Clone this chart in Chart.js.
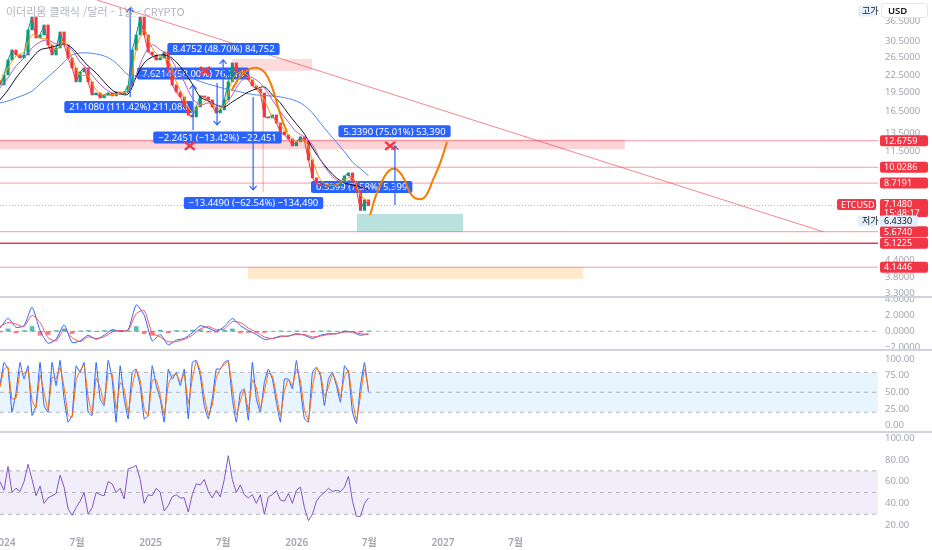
<!DOCTYPE html>
<html lang="ko">
<head>
<meta charset="utf-8">
<title>ETCUSD</title>
<script src="https://cdn.jsdelivr.net/npm/chart.js@4.4.1/dist/chart.umd.min.js"></script>
<style>
  html, body { margin: 0; padding: 0; background: #fff; }
  body { width: 932px; height: 550px; position: relative; overflow: hidden; }
  .pane { position: absolute; left: 0; width: 932px; }
  .sep { position: absolute; left: 0; width: 932px; height: 2px; background: #d1d4dc; }
  #title { position: absolute; left: 6px; top: 3px; font: 11px "Noto Sans CJK KR", "Noto Sans", sans-serif; color: #b2b5be; pointer-events: none; }
</style>
</head>
<body>
<div class="pane" style="top:0;height:297px"><canvas id="mainChart"></canvas></div>
<div class="pane" style="top:297px;height:53px"><canvas id="macdChart"></canvas></div>
<div class="pane" style="top:351px;height:81px"><canvas id="stochChart"></canvas></div>
<div class="pane" style="top:433px;height:117px"><canvas id="rsiChart"></canvas></div>
<div class="sep" style="top:296px"></div>
<div class="sep" style="top:349px"></div>
<div class="sep" style="top:431px"></div>
<div id="title">이더리움 클래식 /달러 - 1날 - CRYPTO</div>
<script>
// x = days since 2024-01-01
const GRID_START = -10;
const GRID_STEP = 10;
const MA_STEP = 20;

const closes = [20.75, 22.67, 25.87, 28.26, 27.04, 26.33, 27.04, 33.72, 37.82, 31.42,
  32.26, 35.24, 29.54, 27.04, 28.76, 33.13, 29.54, 26.33, 24.11, 21.31,
  23.28, 24.11, 21.31, 18.99, 19.33, 18.50, 18.99, 19.33, 18.83, 19.50,
  19.16, 19.50, 20.57, 28.26, 32.26, 37.82, 32.26, 27.77, 27.04, 25.87,
  26.33, 27.77, 23.69, 20.75, 19.50, 18.66, 17.09, 15.92, 15.64, 17.09,
  18.83, 18.66, 18.18, 17.09, 16.20, 16.64, 18.18, 21.31, 25.19, 23.07,
  23.69, 22.67, 21.69, 20.57, 20.03, 19.33, 15.64, 15.51, 15.92, 14.83,
  13.71, 13.35, 12.88, 12.11, 12.55, 13.11, 12.66, 10.70, 9.13, 8.66,
  8.51, 8.58, 8.43, 8.66, 8.51, 8.73, 9.29, 9.54, 8.81, 8.14,
  6.85, 7.52, 7.148];
const firstOpen = 21.6;

const maFast = [21.31, 24.11, 26.80, 27.77, 32.26, 31.42, 30.87, 28.26, 30.33, 26.33,
  22.67, 22.47, 19.85, 18.99, 18.99, 19.33, 19.85, 28.26, 33.72, 28.76,
  26.56, 25.87, 21.31, 18.50, 16.35, 17.39, 18.18, 16.94, 17.24, 21.69,
  23.28, 22.47, 20.57, 18.18, 15.64, 14.57, 13.35, 12.55, 12.77, 10.70,
  8.97, 8.58, 8.58, 8.97, 9.13, 7.86, 7.39];
const maMid = [20.21, 22.07, 24.54, 26.33, 28.76, 30.33, 30.87, 29.80, 29.80, 28.26,
  25.42, 23.69, 21.69, 20.21, 19.33, 19.16, 19.50, 22.67, 27.04, 29.54,
  28.26, 27.04, 24.11, 21.31, 18.50, 17.39, 17.70, 17.39, 17.24, 18.99,
  21.31, 22.27, 21.69, 20.21, 18.18, 16.35, 14.96, 13.71, 13.11, 12.22,
  10.70, 9.63, 8.97, 8.81, 8.97, 8.58, 7.99];
const maSlow = [18.18, 19.85, 22.07, 24.11, 26.33, 28.26, 28.76, 29.28, 29.80, 28.76,
  26.56, 24.54, 23.07, 21.31, 19.85, 19.16, 19.16, 22.27, 25.19, 26.56,
  27.04, 26.80, 25.42, 23.28, 20.94, 18.66, 18.02, 17.39, 17.09, 17.86,
  18.66, 19.50, 20.03, 20.39, 18.99, 17.70, 16.06, 14.70, 13.46, 11.90,
  10.70, 9.80, 9.13, 8.73, 8.58, 8.43, 8.21];
const maLong = [17.70, 18.00, 18.50, 18.99, 19.65, 20.94, 22.27, 23.69, 25.42, 27.04,
  27.52, 27.52, 27.28, 26.80, 25.87, 24.32, 22.67, 22.5, 22.6, 22.8,
  22.9, 22.9, 22.7, 22.4, 22.0, 21.4, 20.9, 20.5, 20.1, 19.8,
  19.5, 19.2, 19.0, 18.9, 18.8, 18.66, 18.4, 18.0, 17.3, 16.2,
  14.8, 13.6, 12.5, 11.5, 10.5, 9.9, 9.3];

const macdLine = [0.4, 1.6, 0.5, 0.7, 3.0, 0.1, -1.5, -1.0, 0.8, -1.4,
  -1.2, -0.5, -1.0, -0.5, 0.2, 0.0, 0.2, 3.3, 2.0, -1.2,
  -0.4, -1.7, -1.1, -0.9, -0.2, 0.7, 0.4, 0.0, 0.6, 1.6,
  0.7, 0.1, -0.4, -1.0, -0.9, -0.6, -0.6, -0.3, -0.5, -0.9,
  -0.5, -0.3, -0.3, 0.0, -0.1, -0.5, -0.3];
const macdSignal = [0.6, 1.1, 0.9, 0.6, 2.0, 1.1, -0.8, -1.2, 0.2, -0.8,
  -1.3, -0.7, -0.9, -0.7, -0.1, 0.1, 0.1, 2.2, 2.6, -0.2,
  -0.7, -1.3, -1.3, -1.0, -0.5, 0.3, 0.6, 0.2, 0.3, 1.2,
  1.1, 0.4, -0.1, -0.7, -0.9, -0.7, -0.6, -0.4, -0.4, -0.7,
  -0.6, -0.4, -0.3, -0.1, -0.1, -0.3, -0.4];
const macdHist = [-0.1, 0.3, -0.2, 0.1, 0.6, -0.5, -0.4, 0.1, 0.3, -0.3,
  0.05, 0.1, -0.05, 0.1, 0.15, -0.05, 0.05, 0.6, -0.3, -0.5,
  0.15, -0.2, 0.1, 0.05, 0.15, 0.2, -0.1, -0.1, 0.15, 0.3,
  -0.2, -0.15, -0.15, -0.15, 0.0, 0.05, 0.0, 0.05, -0.05, -0.1,
  0.05, 0.05, 0.0, 0.05, 0.0, -0.1, 0.05];

const stochK = [60, 95, 85, 20, 50, 95, 70, 90, 15, 30,
  95, 30, 20, 95, 60, 98, 40, 5, 15, 90,
  80, 95, 20, 15, 95, 40, 30, 98, 70, 5,
  90, 40, 10, 80, 85, 60, 10, 15, 90, 60,
  40, 5, 85, 70, 80, 60, 85, 10, 95, 98,
  75, 30, 10, 40, 85, 85, 95, 98, 40, 5,
  50, 55, 8, 95, 40, 20, 65, 85, 70, 35,
  5, 70, 70, 55, 98, 55, 10, 5, 80, 88,
  75, 30, 70, 80, 60, 35, 90, 80, 20, 3,
  60, 95, 50];
const stochD = [58, 85, 88, 40, 41, 82, 78, 84, 38, 26,
  76, 50, 23, 73, 71, 87, 57, 16, 12, 68,
  83, 91, 43, 17, 71, 57, 33, 78, 78, 25,
  65, 55, 19, 59, 84, 68, 25, 14, 68, 69,
  46, 16, 61, 75, 77, 66, 78, 33, 70, 97,
  82, 44, 16, 31, 72, 85, 92, 97, 57, 16,
  37, 54, 22, 69, 57, 26, 52, 79, 75, 46,
  14, 51, 70, 60, 85, 68, 24, 7, 58, 86,
  79, 44, 58, 77, 66, 43, 74, 83, 38, 8,
  45, 85, 55];
const rsi = [60, 52, 74, 50, 54, 51, 60, 76, 62, 47,
  56, 40, 45, 47, 49, 66, 55, 35, 29, 36,
  42, 50, 30, 36, 50, 48, 47, 60, 58, 50,
  54, 44, 72, 73, 75, 62, 40, 48, 47, 54,
  50, 33, 38, 46, 48, 45, 45, 32, 48, 58,
  57, 62, 51, 45, 52, 46, 62, 84, 62, 50,
  57, 48, 45, 48, 40, 48, 30, 46, 48, 52,
  43, 42, 49, 40, 52, 55, 36, 24, 30, 42,
  47, 50, 54, 51, 52, 51, 55, 65, 42, 28,
  28, 40, 45];

const priceTicks = [36.5, 30.5, 26.5, 22.5, 19.5, 16.5, 13.5, 11.5, 10, 7, 6, 5, 4.4, 3.8, 3.3];
const macdTicks = [4, 2, 0, -2];
const stochTicks = [100, 75, 50, 25, 0];
const rsiTicks = [100, 80, 60, 40, 20];
const xTickDays = [0, 182, 366, 547, 731, 912, 1096, 1277];
const xTickLabels = ['2024', '7월', '2025', '7월', '2026', '7월', '2027', '7월'];

const levelPrices = [12.6759, 10.0286, 8.7191, 5.674, 5.1225, 4.1446];
const lastPrice = 7.148;
const lastTime = '15:48:17';
const lowPrice = 6.433;
const highPrice = 39.87;

// drawings (in date / price units)
const zones = [
  { from: -10, to: 1550, top: 12.8, bottom: 11.75, color: 'rgba(242,54,69,0.22)' },
  { from: 569, to: 769, top: 26.1, bottom: 23.48, color: 'rgba(242,54,69,0.18)' },
  { from: 881, to: 1146, top: 6.64, bottom: 5.674, color: 'rgba(38,166,154,0.32)' },
  { from: 609, to: 1446, top: 4.16, bottom: 3.74, color: 'rgba(255,152,0,0.2)' }
];
const trendLine = { d1: 232, p1: 43.94, d2: 2045, p2: 5.674 };
const measures = [
  { day: 548, price: 28.51, text: '8.4752 (48.70%) 84,752' },
  { day: 472, price: 22.97, text: '7.6214 (58.00%) 76,214' },
  { day: 311, price: 17.09, text: '21.1080 (111.42%) 211,080' },
  { day: 533, price: 13.05, text: '\u22122.2451 (\u221213.42%) \u221222,451' },
  { day: 623, price: 7.31, text: '\u221213.4490 (\u221262.54%) \u2212134,490' },
  { day: 975, price: 13.77, text: '5.3390 (75.01%) 53,390' },
  { day: 893, price: 8.42, text: '0.5399 (7.58%) 5,399' }
];
const arrows = [
  { day: 315, from: 18.66, to: 40.94 },
  { day: 472, from: 13.95, to: 20.75 },
  { day: 532, from: 21.12, to: 14.57 },
  { day: 547, from: 17.70, to: 25.87 },
  { day: 622, from: 18.66, to: 8.21 },
  { day: 976, from: 7.19, to: 12.11 }
];
const crosses = [
  { day: 464, price: 12.11 },
  { day: 502, price: 23.48 },
  { day: 964, price: 12.11 }
];
const projDays1 = [569, 589, 609, 632, 652, 669, 684, 697, 707];
const projPrices1 = [19.85, 22.27, 23.69, 24.11, 23.06, 20.39, 17.09, 14.83, 13.71];
const projDays2 = [914, 931, 956, 976, 996, 1014, 1031, 1051, 1071, 1089, 1106];
const projPrices2 = [6.58, 7.99, 9.54, 9.89, 9.21, 7.99, 7.59, 7.72, 8.97, 10.42, 12.55];

const X_MIN = -10, X_MAX = 2182;
const AXIS_W = 54;
const FONT = '"Noto Sans", "Noto Sans CJK KR", sans-serif';
const UP = '#089981', DOWN = '#f23645', RED = '#f23645';
const TICK_COLOR = '#a3a6af';

const days = closes.map((_, i) => GRID_START + i * GRID_STEP);
const maDays = maFast.map((_, i) => GRID_START + i * MA_STEP);
const pts = (xs, ys) => ys.map((v, i) => ({ x: xs[i], y: v }));

const candles = closes.map((c, i) => ({ x: days[i], y: [i ? closes[i - 1] : firstOpen, c] }));

function baseOptions(yScale) {
  return {
    animation: false,
    responsive: true,
    maintainAspectRatio: false,
    layout: { padding: { right: AXIS_W } },
    plugins: { legend: { display: false }, tooltip: { enabled: false } },
    elements: { point: { radius: 0 }, line: { borderWidth: 1 } },
    scales: {
      x: { type: 'linear', min: X_MIN, max: X_MAX, display: false, offset: false },
      y: Object.assign({ display: false }, yScale)
    }
  };
}

function drawTicks(chart, ticks, fmt) {
  const { ctx, chartArea: a, scales: { y } } = chart;
  ctx.save();
  ctx.font = '9.5px ' + FONT;
  ctx.fillStyle = TICK_COLOR;
  ctx.textAlign = 'left';
  ctx.textBaseline = 'middle';
  ticks.forEach(v => ctx.fillText(fmt(v), a.right + 7, y.getPixelForValue(v)));
  ctx.restore();
}

function hLine(ctx, a, yy, color, width, dash) {
  ctx.save();
  ctx.strokeStyle = color;
  ctx.lineWidth = width;
  ctx.setLineDash(dash || []);
  ctx.beginPath();
  ctx.moveTo(a.left, yy);
  ctx.lineTo(a.right, yy);
  ctx.stroke();
  ctx.restore();
}

function tag(ctx, x, yc, w, h, bg, color, lines) {
  ctx.fillStyle = bg;
  ctx.beginPath();
  ctx.roundRect(x, yc - h / 2, w, h, 2);
  ctx.fill();
  ctx.fillStyle = color;
  ctx.textAlign = 'left';
  ctx.textBaseline = 'middle';
  const lh = h / lines.length;
  lines.forEach((t, i) => ctx.fillText(t, x + 4, yc - h / 2 + lh * (i + 0.5) + 0.5));
}

const mainDecor = {
  id: 'mainDecor',
  beforeDatasetsDraw(chart) {
    const { ctx, chartArea: a, scales: { x, y } } = chart;
    ctx.save();
    ctx.beginPath();
    ctx.rect(a.left, a.top, a.width, a.height);
    ctx.clip();

    zones.forEach(z => {
      const x1 = x.getPixelForValue(z.from), x2 = x.getPixelForValue(z.to);
      const y1 = y.getPixelForValue(z.top), y2 = y.getPixelForValue(z.bottom);
      ctx.fillStyle = z.color;
      ctx.fillRect(x1, y1, x2 - x1, y2 - y1);
    });

    levelPrices.forEach((p, i) => {
      const strong = i === 4;
      hLine(ctx, a, y.getPixelForValue(p), strong ? 'rgba(229,40,56,0.9)' : 'rgba(242,54,69,0.5)', strong ? 1.5 : 1);
    });
    hLine(ctx, a, y.getPixelForValue(lastPrice), 'rgba(242,54,69,0.55)', 1, [1, 2]);

    ctx.strokeStyle = 'rgba(242,54,69,0.6)';
    ctx.lineWidth = 1;
    ctx.beginPath();
    ctx.moveTo(x.getPixelForValue(trendLine.d1), y.getPixelForValue(trendLine.p1));
    ctx.lineTo(x.getPixelForValue(trendLine.d2), y.getPixelForValue(trendLine.p2));
    ctx.stroke();

    // faint guide of the big drop
    ctx.strokeStyle = 'rgba(242,54,69,0.3)';
    ctx.lineWidth = 1.5;
    ctx.beginPath();
    ctx.moveTo(x.getPixelForValue(647), y.getPixelForValue(18.99));
    ctx.lineTo(x.getPixelForValue(647), y.getPixelForValue(8.07));
    ctx.stroke();

    ctx.font = '9.5px ' + FONT;
    measures.forEach(m => {
      const w = ctx.measureText(m.text).width + 10, h = 12;
      const cx = x.getPixelForValue(m.day), cy = y.getPixelForValue(m.price);
      ctx.fillStyle = '#2962ff';
      ctx.beginPath();
      ctx.roundRect(cx - w / 2, cy - h / 2, w, h, 2);
      ctx.fill();
      ctx.fillStyle = '#fff';
      ctx.textAlign = 'center';
      ctx.textBaseline = 'middle';
      ctx.fillText(m.text, cx, cy + 0.5);
    });
    ctx.restore();
  },
  afterDatasetsDraw(chart) {
    const { ctx, chartArea: a, scales: { x, y } } = chart;
    ctx.save();
    ctx.beginPath();
    ctx.rect(a.left, a.top, a.width, a.height);
    ctx.clip();
    ctx.strokeStyle = '#2962ff';
    ctx.lineWidth = 1.2;
    arrows.forEach(ar => {
      const px = x.getPixelForValue(ar.day);
      const y1 = y.getPixelForValue(ar.from), y2 = y.getPixelForValue(ar.to);
      const dir = y2 < y1 ? 1 : -1;
      ctx.beginPath();
      ctx.moveTo(px, y1);
      ctx.lineTo(px, y2);
      ctx.moveTo(px - 3.5, y2 + dir * 4);
      ctx.lineTo(px, y2);
      ctx.lineTo(px + 3.5, y2 + dir * 4);
      ctx.stroke();
    });
    ctx.strokeStyle = RED;
    ctx.lineWidth = 2.5;
    crosses.forEach(c => {
      const px = x.getPixelForValue(c.day), py = y.getPixelForValue(c.price);
      ctx.beginPath();
      ctx.moveTo(px - 5, py - 4);
      ctx.lineTo(px + 5, py + 4);
      ctx.moveTo(px + 5, py - 4);
      ctx.lineTo(px - 5, py + 4);
      ctx.stroke();
    });
    ctx.restore();
  },
  afterDraw(chart) {
    const { ctx, chartArea: a, scales: { y } } = chart;
    drawTicks(chart, priceTicks, v => v.toFixed(4));
    ctx.save();
    ctx.font = '9px ' + FONT;
    const lx = a.right + 2, lw = 48;
    levelPrices.forEach(p => tag(ctx, lx, y.getPixelForValue(p), lw, 11, RED, '#fff', [p.toFixed(4)]));

    const ly = y.getPixelForValue(lastPrice);
    tag(ctx, a.right - 41, ly - 1, 39, 11, RED, '#fff', ['ETCUSD']);
    tag(ctx, lx, ly + 2.5, lw, 18, RED, '#fff', [lastPrice.toFixed(4), lastTime]);

    const lowY = Math.max(y.getPixelForValue(lowPrice), ly + 15.5);
    tag(ctx, a.right - 20, lowY, 18, 11, '#e3effd', '#131722', ['저가']);
    tag(ctx, lx, lowY, 38, 11, '#e3effd', '#131722', [lowPrice.toFixed(4)]);

    const hiY = Math.max(y.getPixelForValue(highPrice), 11);
    tag(ctx, a.right - 20, hiY, 18, 11, '#e3effd', '#131722', ['고가']);

    ctx.fillStyle = '#fff';
    ctx.strokeStyle = '#e0e3eb';
    ctx.lineWidth = 1;
    ctx.beginPath();
    ctx.roundRect(a.right + 3.5, 3.5, 46, 14, 3);
    ctx.fill();
    ctx.stroke();
    ctx.fillStyle = '#131722';
    ctx.font = '600 9.5px ' + FONT;
    ctx.textAlign = 'left';
    ctx.textBaseline = 'middle';
    ctx.fillText('USD', a.right + 10, 11);
    ctx.restore();
  }
};

new Chart(document.getElementById('mainChart'), {
  type: 'line',
  data: {
    datasets: [
      { data: pts(projDays1, projPrices1), borderColor: '#f57c00', borderWidth: 2, tension: 0.4, order: 0 },
      { data: pts(projDays2, projPrices2), borderColor: '#f57c00', borderWidth: 2, tension: 0.4, order: 0 },
      { data: pts(maDays, maFast), borderColor: '#ff9800', tension: 0.35, order: 1 },
      { data: pts(maDays, maMid), borderColor: '#b35cc9', tension: 0.35, order: 2 },
      { data: pts(maDays, maSlow), borderColor: '#131722', tension: 0.35, order: 3 },
      { data: pts(maDays, maLong), borderColor: '#4f86f7', tension: 0.35, order: 4 },
      {
        data: pts(days, closes), order: 5, borderWidth: 1, tension: 0,
        segment: { borderColor: s => s.p1.parsed.y >= s.p0.parsed.y ? UP : DOWN }
      },
      {
        type: 'bar', data: candles, order: 6, barThickness: 2.5, grouped: false,
        backgroundColor: c => (c.raw && c.raw.y[1] >= c.raw.y[0]) ? UP : DOWN
      }
    ]
  },
  options: baseOptions({ type: 'logarithmic', min: 3.187, max: 43.94 }),
  plugins: [mainDecor]
});

const macdDecor = {
  id: 'macdDecor',
  beforeDatasetsDraw(chart) {
    hLine(chart.ctx, chart.chartArea, chart.scales.y.getPixelForValue(0), '#b2b5be', 1, [4, 4]);
  },
  afterDraw(chart) {
    drawTicks(chart, macdTicks, v => (v < 0 ? '\u2212' : '') + Math.abs(v).toFixed(4));
  }
};

new Chart(document.getElementById('macdChart'), {
  type: 'line',
  data: {
    datasets: [
      { data: pts(maDays, macdLine), borderColor: '#2962ff', tension: 0.2, order: 1 },
      { data: pts(maDays, macdSignal), borderColor: '#f7525f', tension: 0.2, order: 0 },
      {
        type: 'bar', data: pts(maDays, macdHist), order: 2, barThickness: 4, grouped: false,
        backgroundColor: c => (c.raw && c.raw.y >= 0) ? 'rgba(38,166,154,0.75)' : 'rgba(255,82,82,0.75)'
      }
    ]
  },
  options: baseOptions({ type: 'linear', min: -2.34, max: 4.29 }),
  plugins: [macdDecor]
});

function bandDecor(id, hi, lo, fill, ticks) {
  return {
    id,
    beforeDatasetsDraw(chart) {
      const { ctx, chartArea: a, scales: { y } } = chart;
      const y1 = y.getPixelForValue(hi), y2 = y.getPixelForValue(lo);
      ctx.save();
      ctx.fillStyle = fill;
      ctx.fillRect(a.left, y1, a.width, y2 - y1);
      ctx.restore();
      [hi, (hi + lo) / 2, lo].forEach(v => hLine(ctx, a, y.getPixelForValue(v), '#b2b5be', 1, [4, 4]));
    },
    afterDraw(chart) {
      drawTicks(chart, ticks, v => v.toFixed(2));
    }
  };
}

new Chart(document.getElementById('stochChart'), {
  type: 'line',
  data: {
    datasets: [
      { data: pts(days, stochD), borderColor: '#ff6d00', tension: 0.1 },
      { data: pts(days, stochK), borderColor: '#2962ff', tension: 0.1 }
    ]
  },
  options: baseOptions({ type: 'linear', min: -9.8, max: 112.2 }),
  plugins: [bandDecor('stochDecor', 80, 20, 'rgba(33,150,243,0.1)', stochTicks)]
});

const rsiDecor = bandDecor('rsiDecor', 70, 30, 'rgba(126,87,194,0.1)', rsiTicks);
const timeAxis = {
  id: 'timeAxis',
  afterDraw(chart) {
    const { ctx, chartArea: a, scales: { x } } = chart;
    ctx.save();
    ctx.font = '600 10px ' + FONT;
    ctx.fillStyle = TICK_COLOR;
    ctx.textAlign = 'center';
    ctx.textBaseline = 'middle';
    xTickDays.forEach((d, i) => ctx.fillText(xTickLabels[i], x.getPixelForValue(d), a.bottom + 8));
    ctx.restore();
  }
};

const rsiOptions = baseOptions({ type: 'linear', min: 10.8, max: 104.9 });
rsiOptions.layout.padding.bottom = 15;
new Chart(document.getElementById('rsiChart'), {
  type: 'line',
  data: {
    datasets: [
      { data: pts(days, rsi), borderColor: '#7e57c2', tension: 0 }
    ]
  },
  options: rsiOptions,
  plugins: [rsiDecor, timeAxis]
});
</script>
</body>
</html>
